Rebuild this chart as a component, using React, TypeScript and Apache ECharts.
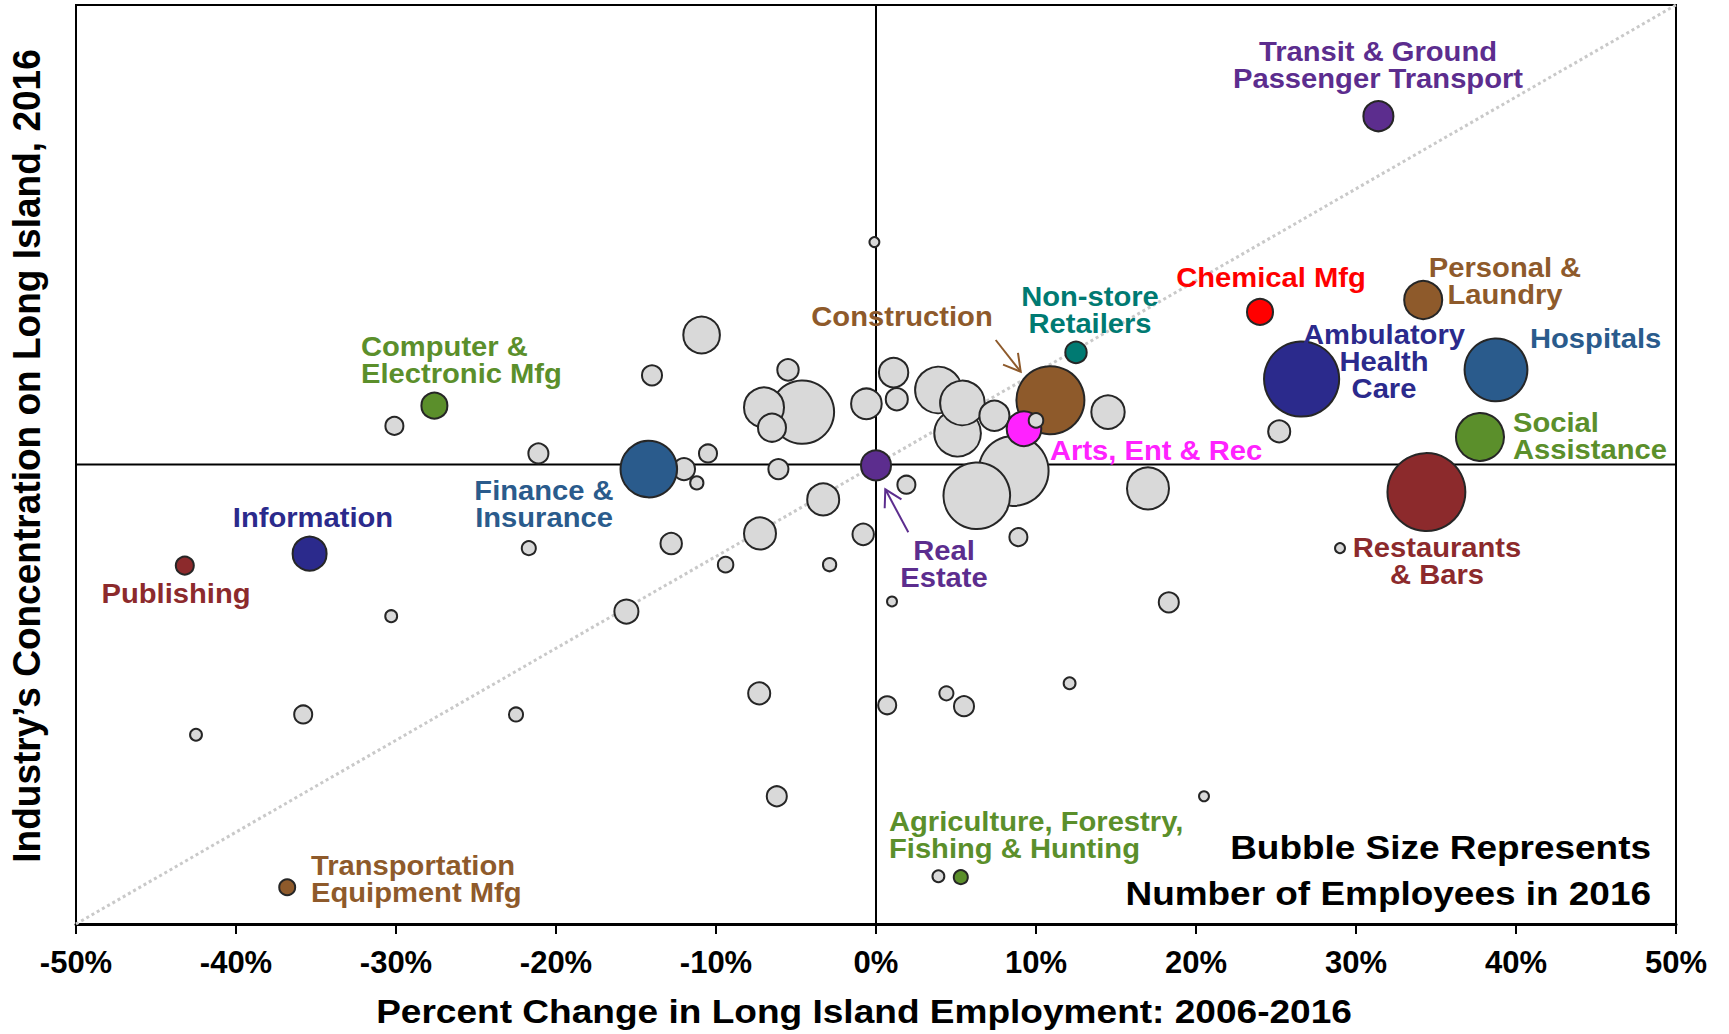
import React, { useEffect, useRef } from "react";
import * as echarts from "echarts";

// ---------- data ----------
// Percent change in employment 2006-2016 (x), industry concentration index (y), employees 2016 (thousands)
const grayX = [-10.9, -14.0, -5.5, -7.0, -4.6, -6.5, -0.6, 1.1, 1.3, 3.9, 5.4, 5.1, 7.4, 14.5, 8.6, 6.3, 1.9, -12.0, -11.2, -10.5, -6.1, -3.3, -7.25, -0.8, -12.8, -9.4, -2.9, 8.9, 25.2, 17.0, 29.0, 18.3, -0.1, -30.1, -21.1, -21.7, -15.6, -30.3, -7.3, -35.8, -22.5, -42.5, -6.2, 1.0, 12.1, 0.7, 4.4, 5.5, 20.5, 3.9];
const grayY = [14.1, 9.7, 10.3, 6.2, 5.7, 4.0, 6.6, 10.0, 7.1, 8.1, 6.7, 3.4, 5.3, 5.7, -0.7, -3.4, -2.2, -0.5, -2.0, 1.2, -0.5, -3.8, -7.5, -7.6, -8.6, -10.9, -10.9, -7.9, 3.6, -2.6, -9.1, -15.0, 24.2, 4.2, 1.2, -9.1, -16.0, -16.5, -24.9, -27.2, -27.2, -29.4, -36.1, -14.9, -23.8, -26.2, -24.9, -26.3, -36.1, -44.8];
const grayEmp = [19, 5.7, 6.5, 22.7, 57, 11.1, 13.3, 12.2, 6.9, 30.8, 28.2, 30.8, 12.8, 15.8, 69.4, 63, 4.6, 6.9, 2.5, 4.6, 5.7, 14.5, 14.5, 6.5, 6.5, 3.4, 2.5, 4.6, 6.9, 25, 1.4, 5.7, 1.4, 4.6, 5.7, 2.8, 8.2, 2.0, 6.9, 4.6, 2.8, 2.0, 5.7, 1.4, 2.0, 4.6, 2.8, 5.7, 1.4, 2.0];

// small unlabeled industry drawn above Arts, Ent & Rec
const overlayX = [10.0];
const overlayY = [4.8];
const overlayEmp = [3.0];

const hlNames = [
  "Transit & Ground Passenger Transport",
  "Chemical Mfg",
  "Personal & Laundry",
  "Non-store Retailers",
  "Ambulatory Health Care",
  "Hospitals",
  "Social Assistance",
  "Restaurants & Bars",
  "Construction",
  "Arts, Ent & Rec",
  "Real Estate",
  "Finance & Insurance",
  "Information",
  "Publishing",
  "Computer & Electronic Mfg",
  "Transportation Equipment Mfg",
  "Agriculture, Forestry, Fishing & Hunting",
];
const hlX = [31.4, 24.0, 34.2, 12.5, 26.6, 38.75, 37.75, 34.4, 10.9, 9.25, 0.0, -14.2, -35.4, -43.2, -27.6, -36.8, 5.3];
const hlY = [37.9, 16.6, 17.9, 12.2, 9.3, 10.3, 3.0, -3.0, 7.0, 3.9, -0.1, -0.5, -9.7, -11.0, 6.4, -46.0, -44.9];
const hlEmp = [12.8, 9.6, 20.5, 6.5, 80, 56, 32.7, 86, 65.5, 17, 12.8, 45.4, 16.4, 4.6, 9.6, 3.6, 2.8];

const xTickValues = [-50, -40, -30, -20, -10, 0, 10, 20, 30, 40, 50];

// ---------- styles ----------
const PURPLE = "#5c2d8e";
const RED = "#ff0000";
const BROWN = "#8e5a2b";
const TEAL = "#007a72";
const NAVY = "#2b2a8c";
const BLUE = "#2a5b8c";
const GREEN = "#5b8f2b";
const DARKRED = "#8c2a2c";
const MAGENTA = "#ff22ff";
const GRAY = "#d9d9d9";

const hlColors = [PURPLE, RED, BROWN, TEAL, NAVY, BLUE, GREEN, DARKRED, BROWN, MAGENTA, PURPLE, BLUE, NAVY, DARKRED, GREEN, BROWN, GREEN];

const FONT = '"Liberation Sans", Arial, Helvetica, sans-serif';

const labelLayout = [
  { text: "Transit & Ground\nPassenger Transport", x: 1378, y: 65, align: "center", color: PURPLE },
  { text: "Chemical Mfg", x: 1271, y: 278, align: "center", color: RED },
  { text: "Personal &\nLaundry", x: 1505, y: 281, align: "center", color: BROWN },
  { text: "Non-store\nRetailers", x: 1090, y: 310, align: "center", color: TEAL },
  { text: "Construction", x: 902, y: 317, align: "center", color: BROWN },
  { text: "Ambulatory\nHealth\nCare", x: 1384, y: 362, align: "center", color: NAVY },
  { text: "Hospitals", x: 1530, y: 339, align: "left", color: BLUE },
  { text: "Social\nAssistance", x: 1513, y: 436, align: "left", color: GREEN },
  { text: "Arts, Ent & Rec", x: 1050, y: 451, align: "left", color: MAGENTA },
  { text: "Restaurants\n& Bars", x: 1437, y: 561, align: "center", color: DARKRED },
  { text: "Real\nEstate", x: 944, y: 564, align: "center", color: PURPLE },
  { text: "Finance &\nInsurance", x: 544, y: 504, align: "center", color: BLUE },
  { text: "Information", x: 313, y: 518, align: "center", color: NAVY },
  { text: "Publishing", x: 176, y: 594, align: "center", color: DARKRED },
  { text: "Computer &\nElectronic Mfg", x: 361, y: 360, align: "left", color: GREEN },
  { text: "Transportation\nEquipment Mfg", x: 311, y: 879, align: "left", color: BROWN },
  { text: "Agriculture, Forestry,\nFishing & Hunting", x: 889, y: 835, align: "left", color: GREEN },
];

function textEl(text: string, x: number, y: number, align: string, color: string, size: number, scaleX: number, lineHeight: number, rotation = 0) {
  return {
    type: "text",
    x,
    y,
    scaleX,
    rotation,
    z: 100,
    silent: true,
    style: {
      text,
      fill: color,
      fontSize: size,
      fontWeight: "bold",
      fontFamily: FONT,
      align,
      textAlign: align,
      verticalAlign: "middle",
      textVerticalAlign: "middle",
      lineHeight,
    },
  };
}

function arrowEls(x1: number, y1: number, x2: number, y2: number, color: string) {
  const len = 19;
  const ang = Math.PI / 6;
  const a = Math.atan2(y1 - y2, x1 - x2);
  const p1 = [x2 + len * Math.cos(a + ang), y2 + len * Math.sin(a + ang)];
  const p2 = [x2 + len * Math.cos(a - ang), y2 + len * Math.sin(a - ang)];
  return [
    { type: "line", z: 100, silent: true, shape: { x1, y1, x2, y2 }, style: { stroke: color, lineWidth: 2 } },
    { type: "polyline", z: 100, silent: true, shape: { points: [p1, [x2, y2], p2] }, style: { stroke: color, lineWidth: 2, fill: null } },
  ];
}

export default function App() {
  const ref = useRef<HTMLDivElement>(null);

  useEffect(() => {
    if (!ref.current) return;
    const chart = echarts.init(ref.current, undefined, { renderer: "svg" });

    const grayIdx = grayX.map((_, i) => i).sort((a, b) => grayEmp[b] - grayEmp[a]);
    const bubbleBorder = { borderColor: "#262626", borderWidth: 2, opacity: 1 };
    const data: any[] = [];
    grayIdx.forEach((i) => {
      data.push({ value: [grayX[i], grayY[i], grayEmp[i]], itemStyle: { color: GRAY, ...bubbleBorder } });
    });
    hlNames.forEach((n, i) => {
      data.push({ name: n, value: [hlX[i], hlY[i], hlEmp[i]], itemStyle: { color: hlColors[i], ...bubbleBorder } });
    });
    overlayX.forEach((x, i) => {
      data.push({ value: [x, overlayY[i], overlayEmp[i]], itemStyle: { color: GRAY, ...bubbleBorder } });
    });

    const graphics: any[] = [];
    labelLayout.forEach((l) => graphics.push(textEl(l.text, l.x, l.y, l.align, l.color, 27, 1.08, 27)));
    graphics.push(textEl("Bubble Size Represents\nNumber of Employees in 2016", 1651, 870, "right", "#000", 33, 1.12, 45.5));
    graphics.push(textEl("Percent Change in Long Island Employment: 2006-2016", 864, 1012, "center", "#000", 34, 1.09, 40));
    graphics.push(textEl("Industry\u2019s Concentration on Long Island, 2016", 27, 456, "center", "#000", 38, 0.975, 44, Math.PI / 2));
    arrowEls(995.7, 340, 1020.7, 371.7, BROWN).forEach((e) => graphics.push(e));
    arrowEls(908.3, 532.3, 885.3, 489.3, PURPLE).forEach((e) => graphics.push(e));

    chart.setOption({
      animation: false,
      backgroundColor: "#fff",
      grid: { left: 76, right: 53, top: 5, bottom: 110, show: true, borderColor: "#000", borderWidth: 2, backgroundColor: "transparent" },
      xAxis: {
        type: "value",
        min: xTickValues[0],
        max: xTickValues[xTickValues.length - 1],
        interval: 10,
        axisLine: { show: true, onZero: false, lineStyle: { color: "#000", width: 3 } },
        axisTick: { show: true, length: 10, lineStyle: { color: "#000", width: 2 } },
        axisLabel: {
          formatter: (v: number) => `${v}%`,
          fontSize: 31,
          fontWeight: "bold",
          fontFamily: FONT,
          color: "#000",
          margin: 23,
        },
        splitLine: { show: false },
      },
      yAxis: {
        type: "value",
        min: -50,
        max: 50,
        interval: 10,
        axisLine: { show: true, onZero: false, lineStyle: { color: "#000", width: 2 } },
        axisTick: { show: false },
        axisLabel: { show: false },
        splitLine: { show: false },
      },
      series: [
        {
          type: "line",
          z: 1,
          silent: true,
          showSymbol: false,
          symbol: "none",
          data: [[-50, -50], [50, 50]],
          lineStyle: { color: "#c9c9c9", width: 3, type: [3, 3] },
        },
        {
          type: "line",
          z: 1,
          silent: true,
          symbol: "none",
          data: [[-50, 0], [50, 0]],
          lineStyle: { color: "#000", width: 2 },
        },
        {
          type: "line",
          z: 1,
          silent: true,
          symbol: "none",
          data: [[0, -50], [0, 50]],
          lineStyle: { color: "#000", width: 2 },
        },
        {
          type: "scatter",
          z: 3,
          silent: true,
          itemStyle: { opacity: 1 },
          symbolSize: (v: number[]) => 8.4 * Math.sqrt(v[2]),
          data,
        },
      ],
      graphic: { elements: graphics },
    });

    return () => chart.dispose();
  }, []);

  return <div ref={ref} style={{ position: "absolute", left: 0, top: 0, width: 1729, height: 1034 }} />;
}
